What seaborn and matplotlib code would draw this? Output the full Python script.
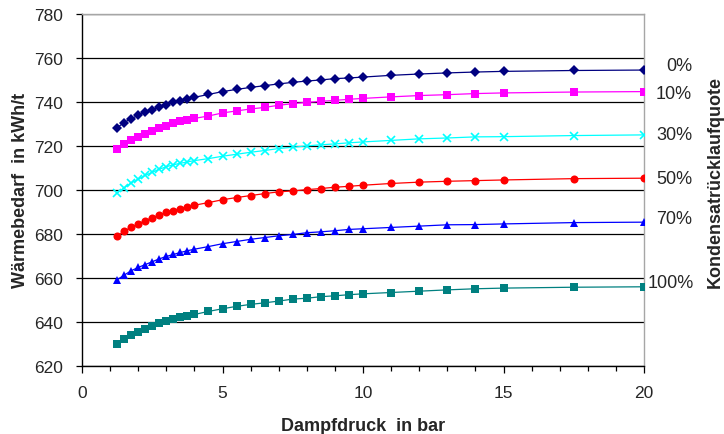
import numpy as np
import pandas as pd
import seaborn as sns
import matplotlib.pyplot as plt
from matplotlib.ticker import MultipleLocator

# Dampfdruck in bar
pressure = [1.25, 1.5, 1.75, 2.0, 2.25, 2.5, 2.75, 3.0, 3.25, 3.5, 3.75, 4.0,
            4.5, 5.0, 5.5, 6.0, 6.5, 7.0, 7.5, 8.0, 8.5, 9.0, 9.5, 10.0,
            11, 12, 13, 14, 15, 17.5, 20]

# Waermebedarf in kWh/t for each Kondensatruecklaufquote
q0 = [728.3, 730.6, 732.4, 733.9, 735.4, 736.5, 737.7, 738.7, 739.8, 740.6, 741.3, 742.1,
      743.4, 744.7, 745.7, 746.6, 747.4, 748.2, 748.9, 749.5, 750.0, 750.6, 750.9, 751.3,
      752.1, 752.7, 753.2, 753.6, 753.9, 754.3, 754.5]
q10 = [718.5, 720.7, 722.7, 724.2, 725.6, 727.0, 728.2, 729.2, 730.3, 731.2, 732.0, 732.5,
       733.6, 735.0, 735.9, 736.8, 737.5, 738.5, 739.2, 739.8, 740.3, 740.7, 741.2, 741.6,
       742.3, 742.9, 743.3, 743.8, 744.1, 744.5, 744.7]
q30 = [698.6, 700.9, 703.2, 704.8, 706.6, 708.0, 709.4, 710.5, 711.4, 712.1, 712.7, 713.3,
       714.2, 715.3, 716.2, 717.1, 717.9, 718.8, 719.4, 720.0, 720.5, 720.9, 721.4, 721.8,
       722.5, 723.2, 723.6, 724.1, 724.2, 724.7, 725.0]
q50 = [678.9, 681.2, 683.0, 684.5, 686.0, 687.3, 688.5, 689.7, 690.6, 691.5, 692.3, 693.0,
       694.2, 695.5, 696.5, 697.4, 698.3, 699.1, 699.5, 700.1, 700.6, 701.2, 701.6, 702.1,
       702.9, 703.5, 703.9, 704.2, 704.5, 705.1, 705.3]
q70 = [659.1, 661.2, 663.2, 664.7, 666.0, 667.3, 668.6, 669.7, 670.6, 671.5, 672.3, 673.0,
       674.2, 675.5, 676.5, 677.5, 678.3, 679.1, 679.7, 680.5, 680.9, 681.4, 682.0, 682.3,
       682.9, 683.5, 684.1, 684.2, 684.5, 685.1, 685.3]
q100 = [629.7, 632.0, 633.8, 635.3, 636.8, 638.2, 639.2, 640.3, 641.2, 642.0, 642.7, 643.3,
        644.7, 645.9, 647.0, 647.9, 648.6, 649.4, 650.3, 650.7, 651.4, 651.8, 652.3, 652.7,
        653.3, 653.9, 654.5, 655.0, 655.3, 655.7, 655.9]

labels = ["0%", "10%", "30%", "50%", "70%", "100%"]
series = [q0, q10, q30, q50, q70, q100]

colors = ["#000080", "#FF00FF", "#00FFFF", "#FF0000", "#0000FF", "#008080"]
markers = ["D", "s", "x", "o", "^", "s"]
msizes = [4.6, 5.4, 5.4, 5.8, 6.0, 5.4]
label_dy = [5, -2, 0, -0.5, 4, 4.5]  # pixel offset of the percent labels
label_dx = [48, 48, 48, 48, 48, 50]

sns.set_style("white")
plt.rcParams["font.family"] = ["Liberation Sans", "DejaVu Sans"]

fig = plt.figure(figsize=(7.24, 4.35), dpi=100)
ax = fig.add_axes([82 / 724, 1 - 366.7 / 435, (644 - 82) / 724, (366.7 - 15) / 435])

for lab, vals, c, m, ms in zip(labels, series, colors, markers, msizes):
    df = pd.DataFrame({"p": pressure, "w": vals})
    mew = 1.2 if m == "x" else 0
    sns.lineplot(data=df, x="p", y="w", ax=ax, color=c, marker=m, markersize=ms,
                 markeredgewidth=mew, markeredgecolor=c, linewidth=0.9, zorder=3)

# percent labels to the right of each curve end
for lab, vals, dx, dy in zip(labels, series, label_dx, label_dy):
    ax.annotate(lab, xy=(pressure[-1], vals[-1]), xycoords="data",
                xytext=(dx, dy), textcoords="offset pixels",
                ha="right", va="center", fontsize=13, annotation_clip=False)

ax.set_xlim(0, 20)
ax.set_ylim(620, 780)
ax.xaxis.set_major_locator(MultipleLocator(5))
ax.xaxis.set_minor_locator(MultipleLocator(1))
ax.yaxis.set_major_locator(MultipleLocator(20))

ax.grid(axis="y", color="black", linewidth=0.9)
ax.grid(axis="x", visible=False)
ax.set_axisbelow(True)

for side in ["left", "bottom"]:
    ax.spines[side].set_color("black")
    ax.spines[side].set_linewidth(1.0)
for side in ["top", "right"]:
    ax.spines[side].set_color("#a6a6a6")
    ax.spines[side].set_linewidth(1.0)

ax.tick_params(axis="both", which="major", labelsize=12.5, direction="out",
               width=0.9, color="black", bottom=True, left=True)
ax.tick_params(axis="x", which="major", length=5, pad=9)
ax.tick_params(axis="y", which="major", length=4.5, pad=9)
ax.tick_params(axis="x", which="minor", direction="out", length=3.5, width=0.9,
               color="black", bottom=True)

ax.set_xlabel("Dampfdruck  in bar", fontsize=13, fontweight="bold", labelpad=12)
ax.set_ylabel("Wärmebedarf  in kWh/t", fontsize=13, fontweight="bold", labelpad=4)

fig.text(715.5 / 724, 1 - 181.5 / 435, "Kondensatrücklaufquote", rotation=90,
         ha="center", va="center", fontsize=13, fontweight="bold")

fig.savefig("out.png", dpi=100)
